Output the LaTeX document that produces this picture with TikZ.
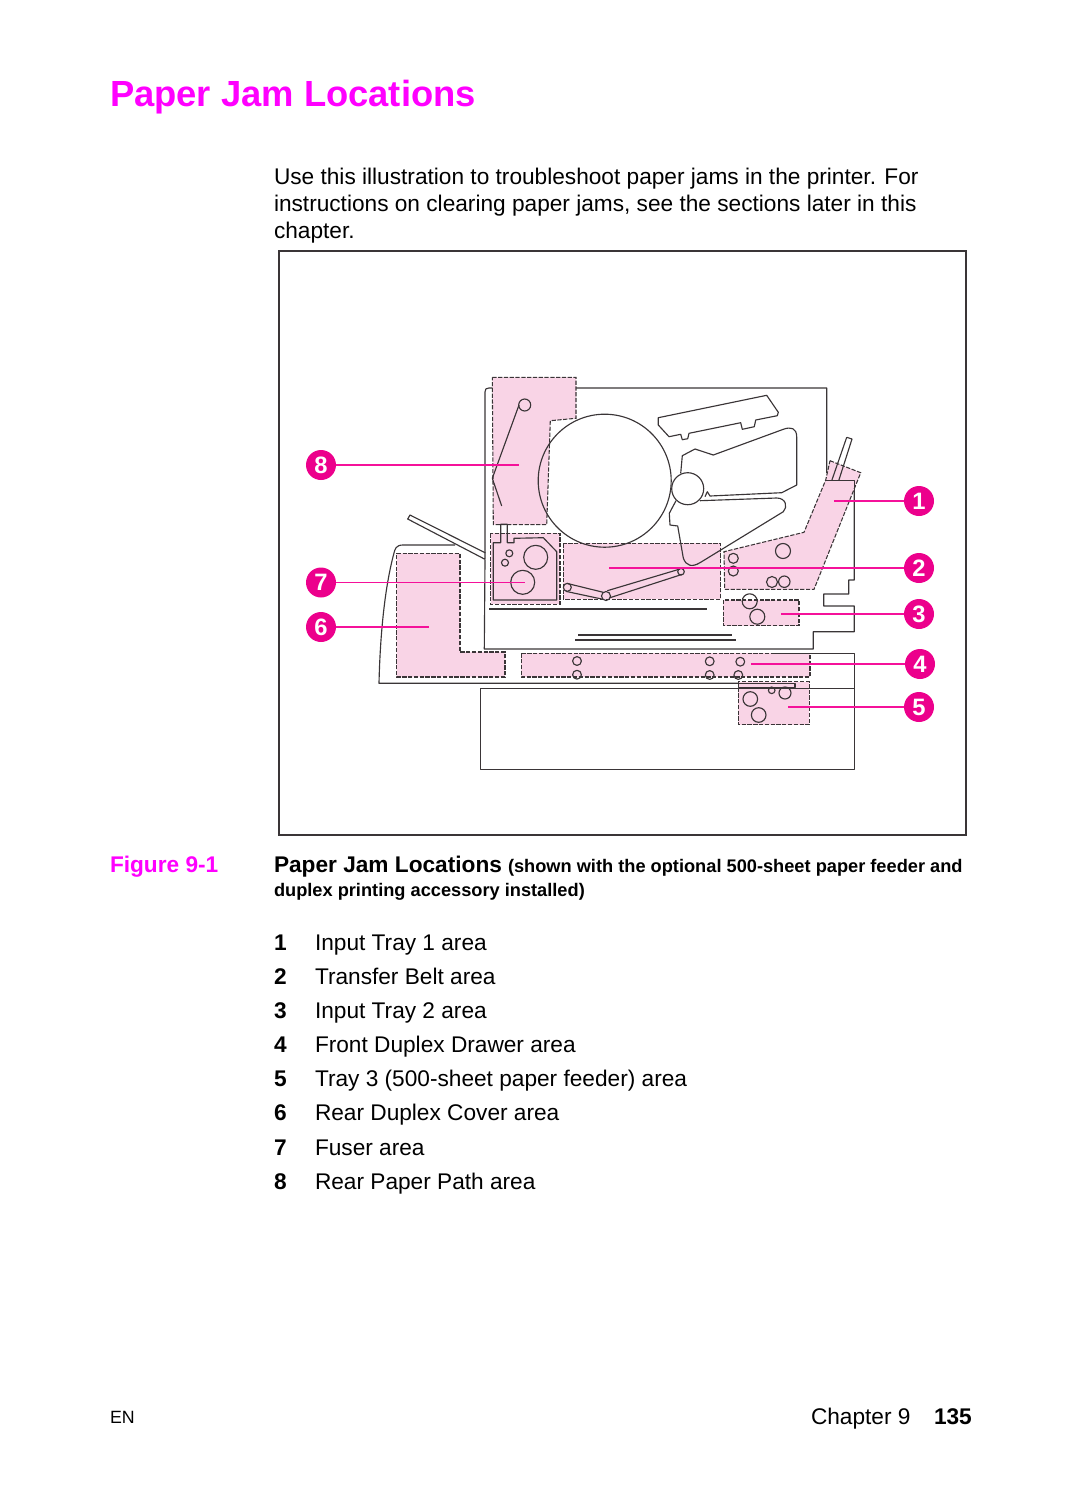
\documentclass[tikz,border=0pt]{standalone}
\usepackage{fontspec}
\setmainfont{Liberation Sans}
\definecolor{TitlePink}{RGB}{255,0,255}
\definecolor{JamPink}{HTML}{F9D4E6}
\definecolor{Callout}{HTML}{EC008C}
\definecolor{Leader}{HTML}{F5119A}
\definecolor{Ink}{HTML}{3A3537}
\tikzset{
    txt/.style={anchor=base west, inner sep=0pt, outer sep=0pt},
    bodytxt/.style={txt, font=\fontsize{12.9pt}{15pt}\selectfont},
    headtxt/.style={txt, font=\fontsize{12.9pt}{15pt}\selectfont\bfseries},
    smallbold/.style={txt, font=\fontsize{10.37pt}{13pt}\selectfont\bfseries},
    ink/.style={Ink, line width=0.65pt, line join=round},
    jam/.style={fill=JamPink, draw=Ink, line width=0.6pt, dash pattern=on 2.4pt off 0.9pt},
    leader/.style={Leader, line width=0.6pt},
    callout/.style={circle, fill=Callout, text=white, minimum size=0.6cm, inner sep=0pt, font=\fontsize{13.5pt}{14pt}\selectfont\bfseries},
}

\begin{document}
\begin{tikzpicture}[x=0.02cm, y=-0.02cm]
\useasboundingbox (0,0) rectangle (1080,1495);

% ============================
\node[txt, text=TitlePink, font=\fontsize{20.7pt}{24pt}\selectfont\bfseries] (title) at (110,106) {Paper Jam Locations};
\node[bodytxt] (intro1) at (274,184) {Use this illustration to troubleshoot paper jams in the printer. For};
\node[bodytxt] (intro2) at (274,211) {instructions on clearing paper jams, see the sections later in this};
\node[bodytxt] (intro3) at (274,238) {chapter.};

% ============================
\draw[Ink, line width=1.15pt] (279,251) rectangle (966,835);

% ============================
% printer body and rear cover outline
\draw[ink] (485,553) -- (485,392) .. controls (485,389) and (486,388) .. (489,388) -- (826.7,388) -- (826.7,473);
\draw[ink] (485,560) -- (484.3,649) -- (813.3,649) -- (813.3,631.7) -- (854.3,631.7) -- (854.3,606)
    -- (823.7,606) -- (823.7,594) -- (848.7,594) -- (848.7,580) -- (854.3,580) -- (854.3,480.7);
\draw[ink] (455,545) -- (403,545) .. controls (396,545) and (395,549) .. (394,553)
    .. controls (384,590) and (380,640) .. (379,683.3) -- (738,683.3);

% ============================
\draw[jam] (492.3,377.3) -- (576,377.3) -- (576,418.3) -- (550.3,420.7) -- (546.7,524.7) -- (493.3,524.7) -- cycle;
\draw[jam] (490.7,533.3) rectangle (560,604.3);
\draw[jam] (563.3,543.3) rectangle (720.7,599.3);
\draw[jam] (396.7,553.3) -- (460,553.3) -- (460,652) -- (505,652) -- (505,677) -- (396.7,677) -- cycle;
\draw[jam] (521.3,653.3) rectangle (810,677);
\draw[jam] (738.3,681.7) rectangle (809.3,724.7);
\draw[jam] (723.3,600) rectangle (799,625.7);
\draw[jam] (830,460.7) -- (860.7,472.7) -- (814,589.3) -- (724.7,589.3) -- (724,551.7) -- (804,532.3) -- (825.7,480) -- cycle;

% ============================
% drum, roller and toner cartridge
\draw[ink] (604.7,480.7) circle (66.5);
\draw[ink] (687.7,488.7) circle (16);
\draw[ink] (658.3,417.7) -- (766.7,395.3) -- (778.3,412.3) -- (777.3,415.7) -- (755.7,420) -- (754.3,426.7)
    -- (742.3,429.3) -- (740.7,422.7) -- (689,433.3) -- (687.7,438.7) -- (682.3,439.7) -- (680.7,434.3)
    -- (669,436.7) -- (658.3,425) -- cycle;
\draw[ink] (680.7,473.3) -- (682.3,455.7) -- (695,449) -- (713.3,455) -- (783.3,429.3)
    .. controls (791,426.5) and (796.7,428) .. (796.7,437) -- (796.7,485) -- (781.7,492.7) -- (710,496)
    -- (707.3,491.7) -- (705,496.7);
\draw[ink] (700,500.7) -- (776.7,498) .. controls (786,498) and (788,507) .. (783.3,511.7)
    -- (700,562.7) .. controls (692,567.5) and (686,566) .. (683.3,558) -- (677.7,526) -- (670,525)
    -- (669.3,513.3) -- (676,500.7);

% ============================
% rear paper path and output tray
\draw[ink] (524.7,405) circle (6);
\draw[ink] (519,405) -- (492.3,478.3) -- (501.7,506);
\draw[ink] (410,515) -- (485,552.7) -- (485,559.3) -- (407.7,519) -- cycle;

% ============================
% fuser
\draw[ink] (493.3,542.7) -- (500.7,542.7) -- (500.7,524.3) -- (507.3,524.3) -- (507.3,542.7) -- (514,542.7)
    -- (514,538.3) -- (543.3,537.7) -- (556.7,551.7) -- (556.7,600) -- (493.3,600) -- cycle;
\draw[ink] (509.3,553.3) circle (3.5);
\draw[ink] (505,562.7) circle (3.5);
\draw[ink] (535.7,557.3) circle (12);
\draw[ink] (522.7,582.3) circle (12);

% ============================
% transfer belt
\draw[ink] (567.3,587.3) circle (4);
\draw[ink] (606,596) circle (4.5);
\draw[ink] (681,571.7) circle (3.3);
\draw[ink] (566.7,583.3) -- (603.3,592.3);
\draw[ink] (565.7,591.3) -- (601.7,599);
\draw[ink] (607.3,590.7) -- (680,569);
\draw[ink] (610,597.7) -- (682.3,574.3);
\draw[ink] (489,609) -- (706.7,609);
\draw[ink] (578.3,635) -- (731.7,635);
\draw[ink] (575,640) -- (735.7,640);

% ============================
% input tray 1
\draw[ink] (846.7,437.3) -- (852,439) -- (838.7,480.7);
\draw[ink] (831.7,480.7) -- (846.7,437.3);
\draw[ink] (826,480.7) -- (854.3,480.7) -- (854.3,500);
\draw[ink] (733.3,558.3) circle (5);
\draw[ink] (733.3,571) circle (5);
\draw[ink] (783,551) circle (7.5);
\draw[ink] (772,582) circle (5.5);
\draw[ink] (784.3,581.7) circle (5.7);

% ============================
% input tray 2
\draw[ink] (749.7,601.3) circle (7.5);
\draw[ink] (757.3,616.7) circle (7.5);

% ============================
% duplex drawer and tray 3
\draw[ink] (577,661) circle (4.4);
\draw[ink] (577,674.7) circle (4.4);
\draw[ink] (709.7,661.3) circle (4.4);
\draw[ink] (709.7,675) circle (4.4);
\draw[ink] (740.3,661.7) circle (4.4);
\draw[ink] (738.3,675) circle (4.4);
\draw[ink] (772.7,653.3) -- (854.7,653.3) -- (854.7,769.3) -- (480.3,769.3) -- (480.3,688.3) -- (854.7,688.3);
\draw[ink] (738.3,683.3) rectangle (795,687.7);
\draw[ink] (750.3,699) circle (7.3);
\draw[ink] (758.7,715) circle (7.3);
\draw[ink] (771.7,690.3) circle (3.3);
\draw[ink] (785,693) circle (6);

% ============================
\node[callout] (callout1) at (919,501) {1};
\node[callout] (callout2) at (919,568) {2};
\node[callout] (callout3) at (919,614) {3};
\node[callout] (callout4) at (920,664) {4};
\node[callout] (callout5) at (919,707) {5};
\node[callout] (callout6) at (321,627) {6};
\node[callout] (callout7) at (321,582.5) {7};
\node[callout] (callout8) at (321,465) {8};

\coordinate (tip1) at (834,501);
\coordinate (tip2) at (609,568);
\coordinate (tip3) at (781,614);
\coordinate (tip4) at (751,664);
\coordinate (tip5) at (788,707);
\coordinate (tip6) at (429,627);
\coordinate (tip7) at (525,582.5);
\coordinate (tip8) at (519,465);

\draw[leader] (callout1) -- (tip1);
\draw[leader] (callout2) -- (tip2);
\draw[leader] (callout3) -- (tip3);
\draw[leader] (callout4) -- (tip4);
\draw[leader] (callout5) -- (tip5);
\draw[leader] (callout6) -- (tip6);
\draw[leader] (callout7) -- (tip7);
\draw[leader] (callout8) -- (tip8);

% ============================
\node[headtxt, text=TitlePink] (figlabel) at (110,872) {Figure 9-1};
\node[headtxt] (captionhead) at (274,872) {Paper Jam Locations};
\node[smallbold] (caption1) at (508,872) {(shown with the optional 500-sheet paper feeder and};
\node[smallbold] (caption2) at (274,896.5) {duplex printing accessory installed)};

% ============================
\node[headtxt] (num1) at (274,950) {1};
\node[bodytxt] (item1) at (315,950) {Input Tray 1 area};
\node[headtxt] (num2) at (274,984) {2};
\node[bodytxt] (item2) at (315,984) {Transfer Belt area};
\node[headtxt] (num3) at (274,1018.5) {3};
\node[bodytxt] (item3) at (315,1018.5) {Input Tray 2 area};
\node[headtxt] (num4) at (274,1052) {4};
\node[bodytxt] (item4) at (315,1052) {Front Duplex Drawer area};
\node[headtxt] (num5) at (274,1086.5) {5};
\node[bodytxt] (item5) at (315,1086.5) {Tray 3 (500-sheet paper feeder) area};
\node[headtxt] (num6) at (274,1120.5) {6};
\node[bodytxt] (item6) at (315,1120.5) {Rear Duplex Cover area};
\node[headtxt] (num7) at (274,1155) {7};
\node[bodytxt] (item7) at (315,1155) {Fuser area};
\node[headtxt] (num8) at (274,1189) {8};
\node[bodytxt] (item8) at (315,1189) {Rear Paper Path area};

% ============================
\node[txt, font=\fontsize{10.1pt}{12pt}\selectfont] (footleft) at (110,1423) {EN};
\node[bodytxt] (footchapter) at (811,1424) {Chapter 9};
\node[headtxt] (footpage) at (934,1424) {135};

\end{tikzpicture}
\end{document}
